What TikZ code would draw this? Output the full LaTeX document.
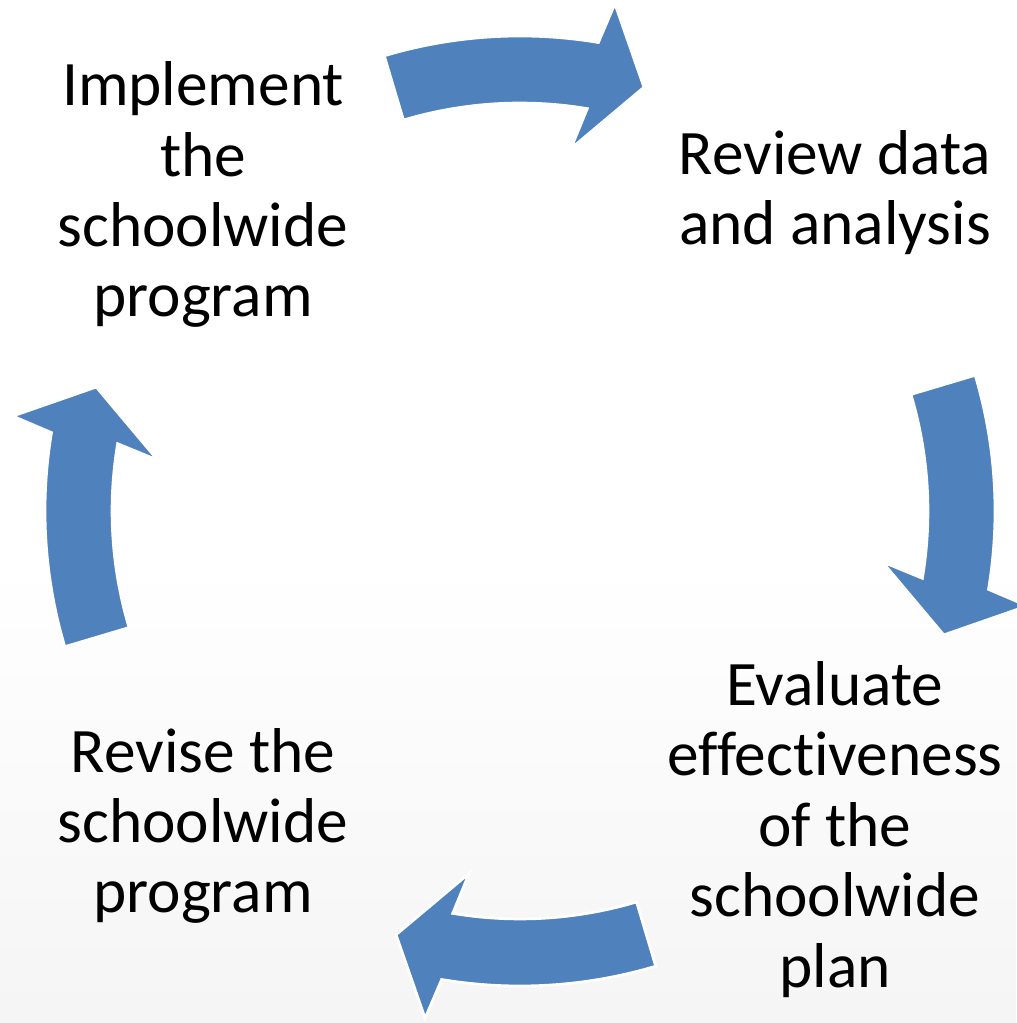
\documentclass[tikz,border=0pt]{standalone}
\usepackage{fontspec}
\setmainfont{Carlito}[Ligatures=CommonOff]
\usepackage{tikz}

\definecolor{cycblue}{HTML}{4F81BD}

\begin{document}
\begin{tikzpicture}[x=0.75pt,y=0.75pt,
  stage text/.style = {align=center, anchor=base, inner sep=0pt,
    font=\fontsize{47.5}{52.8}\selectfont},
  cyc arrow/.style = {fill=cycblue, draw=white, line width=2pt, line join=miter}]
\useasboundingbox (0,0) rectangle (1016,1023);
\shade[top color=white, bottom color=black!4] (0,0) rectangle (1016,463);
\coordinate (c) at (520,512);

% the four curved arrows of the cycle
\foreach \a in {90,0,-90,180} {
  \draw[cyc arrow, shift={(c)}]
    (\a+16.6:475) arc[start angle=\a+16.6, end angle=\a-9.5, radius=475]
    -- (\a-10.6:516) -- (\a-16.3:441.5) -- (\a-8.0:366)
    -- (\a-9.5:408) arc[start angle=\a-9.5, end angle=\a+16.6, radius=408]
    -- cycle;
}

% base = baseline of the last line
\node[stage text] (impl) at (203,706) {Implement\\the\\schoolwide\\program};
\node[stage text] (review) at (835,778) {Review data\\and analysis};
\node[stage text] (evaluate) at (835,36) {Evaluate\\effectiveness\\of the\\schoolwide\\plan};
\node[stage text] (revise) at (203,110) {Revise the\\schoolwide\\program};
\end{tikzpicture}
\end{document}
